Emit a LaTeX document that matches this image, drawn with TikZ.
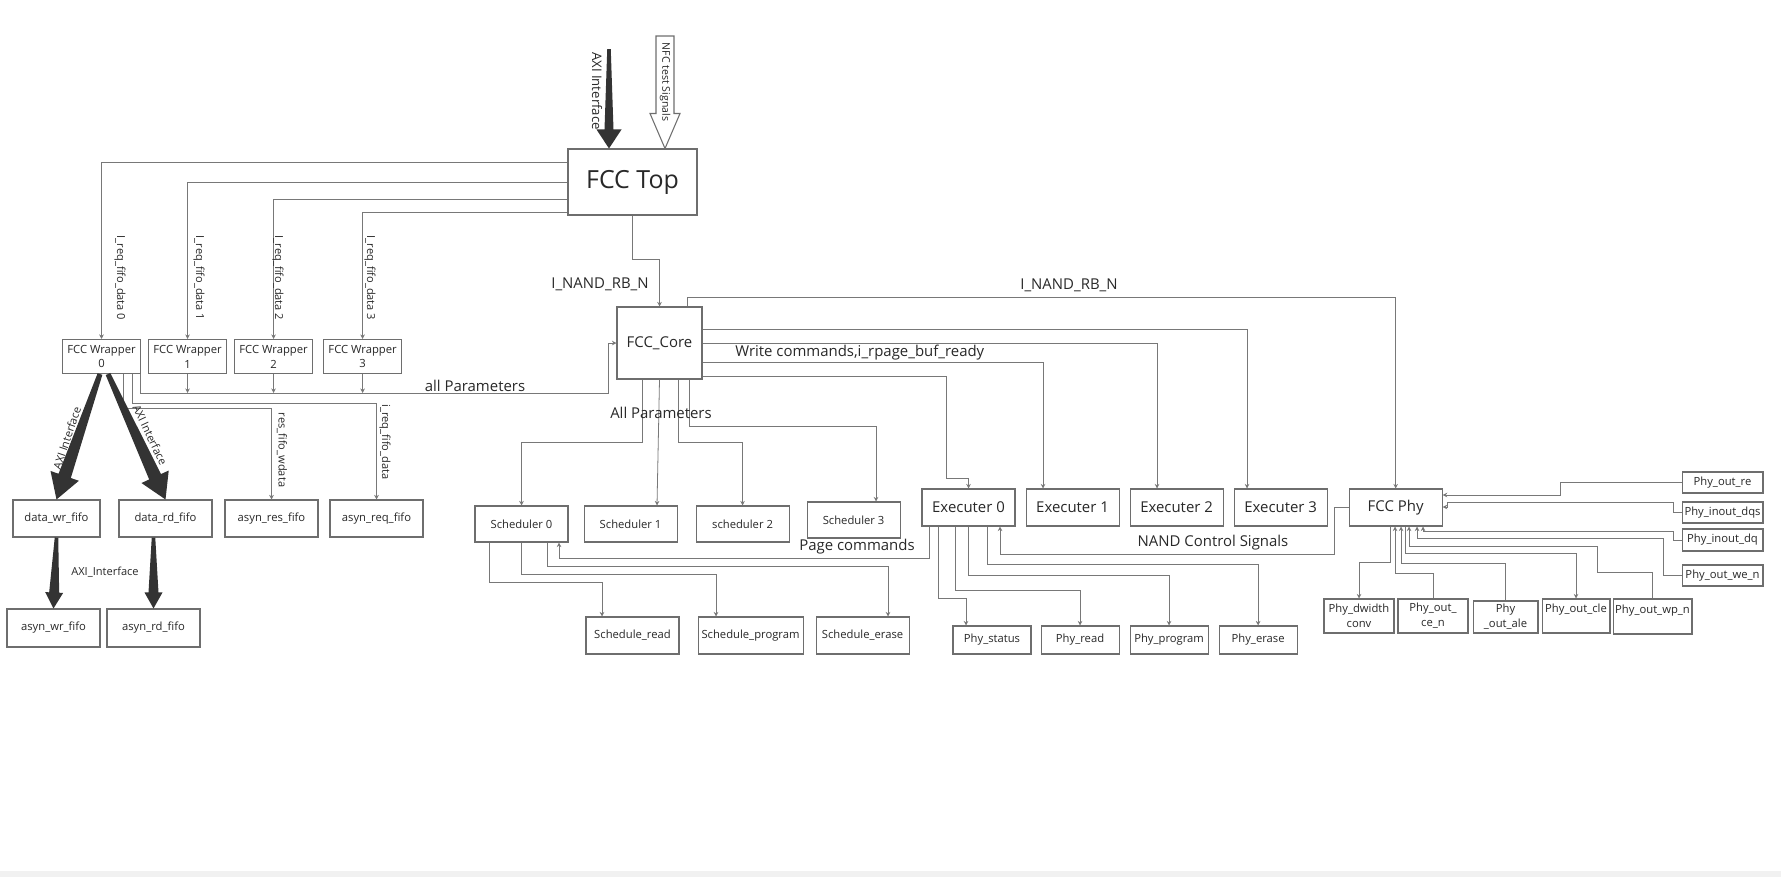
\documentclass[tikz,border=0pt]{standalone}
\usepackage{fontspec}
\setmainfont{Open Sans}
\usepackage{xcolor}
\usepackage{tikz}
\usetikzlibrary{arrows.meta, positioning, calc}

\definecolor{boxgray}{RGB}{110,110,110}
\definecolor{wiregray}{RGB}{120,120,120}
\definecolor{ink}{RGB}{40,40,40}
\definecolor{axidark}{RGB}{51,51,51}
\definecolor{stripgray}{RGB}{241,241,241}

% tapered block arrow: [style]{tail}{tip}{tail half width}{shaft half width}{head half width}{head length}
\newcommand{\blockarrow}[7][fill=axidark]{%
  \coordinate (ba-neck) at ($(#3)!#7!(#2)$);
  \path[#1] ($(#2)!#4!90:(#3)$) -- ($(ba-neck)!#5!90:(#3)$) -- ($(ba-neck)!#6!90:(#3)$) -- (#3)
    -- ($(ba-neck)!#6!-90:(#3)$) -- ($(ba-neck)!#5!-90:(#3)$) -- ($(#2)!#4!-90:(#3)$) -- cycle;
}

\begin{document}
\begin{tikzpicture}[
    x=0.02cm, y=-0.02cm,
    blk/.style={draw=boxgray, line width=0.6pt, fill=white, align=center, inner sep=0.5pt, text=ink,
      font=\fontsize{6.4}{8.5}\selectfont, minimum width=#1, minimum height=0.74cm},
    blk/.default=1.86cm,
    mid/.style={font=\fontsize{8.5}{10}\selectfont},
    wire/.style={draw=wiregray, line width=0.45pt, -{Stealth[length=2.6pt, width=2.6pt]}},
    note/.style={font=\fontsize{8.5}{10}\selectfont, text=ink, inner sep=0pt},
    tag/.style={font=\fontsize{6.3}{7.6}\selectfont, text=ink, inner sep=0pt},
  ]
  \useasboundingbox (0,0) rectangle (1781,877);
  \fill[stripgray] (0,871) rectangle (1781,877);

  % Top level and core
  \node[blk=2.58cm, minimum height=1.32cm, font=\fontsize{14.2}{17}\selectfont] (top) at (632.5,182) {FCC Top};
  \node[blk=1.7cm, mid, minimum height=1.44cm] (core) at (659.5,343) {FCC\_Core};

  % Wrappers
  \node[blk=1.56cm, minimum height=0.68cm] (wrap0) at (101.5,356.5) {FCC Wrapper\\0};
  \node[blk=1.56cm, minimum height=0.68cm, right=0.14cm of wrap0] (wrap1) {FCC Wrapper\\1};
  \node[blk=1.56cm, minimum height=0.68cm, right=0.14cm of wrap1] (wrap2) {FCC Wrapper\\2};
  \node[blk=1.56cm, minimum height=0.68cm, right=0.2cm of wrap2] (wrap3) {FCC Wrapper\\3};

  % FIFOs
  \node[blk=1.74cm] (wr) at (56.5,518.5) {data\_wr\_fifo};
  \node[blk] (rd) at (165.5,518.5) {data\_rd\_fifo};
  \node[blk] (res) at (271.5,518.5) {asyn\_res\_fifo};
  \node[blk] (req) at (376.5,518.5) {asyn\_req\_fifo};
  \node[blk, minimum height=0.76cm] (awr) at (53.5,628) {asyn\_wr\_fifo};
  \node[blk, minimum height=0.76cm] (ard) at (153.5,628) {asyn\_rd\_fifo};

  % Schedulers
  \node[blk, minimum height=0.72cm] (sch0) at (521.5,524) {Scheduler 0};
  \node[blk, minimum height=0.72cm, right=0.3cm of sch0] (sch1) {Scheduler 1};
  \node[blk, minimum height=0.72cm, right=0.36cm of sch1] (sch2) {scheduler 2};
  \node[blk, minimum height=0.72cm, right=0.34cm of sch2, yshift=0.08cm] (sch3) {Scheduler 3};
  \node[blk] (sread) at (632.5,635.5) {Schedule\_read};
  \node[blk=2.1cm, right=0.36cm of sread] (sprog) {Schedule\_program};
  \node[blk, right=0.24cm of sprog] (serase) {Schedule\_erase};

  % Executers and Phy
  \node[blk, mid] (exe0) at (968.5,507.5) {Executer 0};
  \node[blk, mid, right=0.2cm of exe0] (exe1) {Executer 1};
  \node[blk, mid, right=0.2cm of exe1] (exe2) {Executer 2};
  \node[blk, mid, right=0.2cm of exe2] (exe3) {Executer 3};
  \node[blk, mid, right=0.42cm of exe3] (phy) {FCC Phy};
  \node[blk=1.56cm, minimum height=0.56cm] (pstat) at (992,640) {Phy\_status};
  \node[blk=1.56cm, minimum height=0.56cm, right=0.18cm of pstat] (pread) {Phy\_read};
  \node[blk=1.56cm, minimum height=0.56cm, right=0.2cm of pread] (pprog) {Phy\_program};
  \node[blk=1.56cm, minimum height=0.56cm, right=0.2cm of pprog] (perase) {Phy\_erase};

  % Phy pins
  \node[blk=1.62cm, minimum height=0.42cm] (pre) at (1722.5,482.5) {Phy\_out\_re};
  \node[blk=1.62cm, minimum height=0.42cm] (pdqs) at (1722.5,512.5) {Phy\_inout\_dqs};
  \node[blk=1.62cm, minimum height=0.44cm] (pdq) at (1722.5,540) {Phy\_inout\_dq};
  \node[blk=1.62cm, minimum height=0.42cm] (pwe) at (1722.5,575.5) {Phy\_out\_we\_n};
  \node[blk=1.4cm, minimum height=0.68cm] (pdw) at (1359,616) {Phy\_dwidth\\conv};
  \node[blk=1.4cm, minimum height=0.68cm] (pce) at (1433,616) {Phy\_out\_\\ce\_n};
  \node[blk=1.3cm, minimum height=0.64cm] (pale) at (1505.5,617) {Phy\\\_out\_ale};
  \node[blk=1.36cm, minimum height=0.68cm] (pcle) at (1576,616) {Phy\_out\_cle\\~};
  \node[blk=1.58cm, minimum height=0.7cm] (pwp) at (1652.5,616.5) {Phy\_out\_wp\_n\\~};

  % Inputs of FCC Top
  \coordinate (axisrc) at (609,49);
  \coordinate (axidst) at (top.north -| 609,0);
  \blockarrow{axisrc}{axidst}{0.035cm}{0.09cm}{0.25cm}{0.38cm}
  \coordinate (nfcsrc) at (665,36);
  \coordinate (nfcdst) at (top.north -| 665,0);
  \blockarrow[draw=boxgray, line width=0.6pt, fill=white]{nfcsrc}{nfcdst}{0.18cm}{0.18cm}{0.3cm}{0.7cm}
  \node[tag, font=\fontsize{7.5}{9}\selectfont, rotate=-90] (axilbl) at (597,91) {AXI Interface};
  \node[tag, font=\fontsize{6}{7}\selectfont, rotate=-90] (nfclbl) at (665,82) {NFC test Signals};

  % FCC Top to wrappers
  \draw[wire] (top.west |- 0,162) -| (wrap0.north);
  \draw[wire] (top.west) -| (wrap1.north);
  \draw[wire] (top.west |- 0,199) -| (wrap2.north);
  \draw[wire] (top.west |- 0,212) -| (wrap3.north);
  \node[tag, rotate=-90] (req0lbl) at (120,278) {I\_req\_fifo\_data 0};
  \node[tag, rotate=-90] (req1lbl) at (199,278) {I\_req\_fifo\_data 1};
  \node[tag, rotate=-90] (req2lbl) at (278,278) {I\_req\_fifo\_data 2};
  \node[tag, rotate=-90] (req3lbl) at (370,278) {I\_req\_fifo\_data 3};

  % FCC Top to core
  \draw[wire] (top.south) -- (top.south |- 0,259) -| (core.north);
  \node[note] (rb1lbl) at (600,284) {I\_NAND\_RB\_N};

  % Wrapper outputs
  \draw[wire] ([xshift=-0.02cm]wrap0.south east) |- (608,393) |- (core.west);
  \draw[wire] (wrap1.south) -- (wrap1.south |- 0,393);
  \draw[wire] (wrap2.south) -- (wrap2.south |- 0,393);
  \draw[wire] (wrap3.south) -- (wrap3.south |- 0,393);
  \node[note] (paramlbl) at (475,386) {all Parameters};
  \draw[wire] (wrap0.south -| 132,0) -- (132,403) -| (req.north);
  \draw[wire] (wrap0.south -| 123,0) -- (123,408) -| (res.north);
  \node[tag, rotate=-90] (reqlbl) at (385,442) {i\_req\_fifo\_data};
  \node[tag, rotate=-90] (reslbl) at (282,450) {res\_fifo\_wdata};

  % AXI data path
  \coordinate (axiw) at ([xshift=-0.03cm]wrap0.south);
  \coordinate (axir) at ([xshift=0.13cm]wrap0.south);
  \blockarrow{axiw}{wr.north}{0.05cm}{0.13cm}{0.3cm}{0.5cm}
  \blockarrow{axir}{rd.north}{0.05cm}{0.13cm}{0.3cm}{0.5cm}
  \coordinate (rdtail) at (rd.south -| ard.north);
  \blockarrow{wr.south}{awr.north}{0.035cm}{0.1cm}{0.18cm}{0.32cm}
  \blockarrow{rdtail}{ard.north}{0.035cm}{0.1cm}{0.18cm}{0.32cm}
  \node[tag, rotate=71.4] (axiwlbl) at (67,438) {AXI Interface};
  \node[tag, rotate=-64.7] (axirlbl) at (150,435) {AXI Interface};
  \node[tag] (axififolbl) at (105,572) {AXI\_Interface};

  % Core to schedulers
  \draw[wire] (core.south -| 642,0) -- (642,442) -| (sch0.north);
  \draw[wire] (core.south) -- (sch1.north -| 657,0);
  \draw[wire] (core.south -| 678,0) -- (678,442) -| (sch2.north);
  \draw[wire] (core.south -| 689,0) -- (689,426) -| (sch3.north -| 876,0);
  \node[note] (allplbl) at (661,413) {All Parameters};

  % Scheduler 0 outputs
  \draw[wire] (sch0.south -| 489,0) -- (489,582) -| (sread.north -| 602,0);
  \draw[wire] (sch0.south) -- (sch0.south |- 0,574) -| (sprog.north -| 716,0);
  \draw[wire] (sch0.south -| 547,0) -- (547,566) -| (serase.north -| 888,0);
  \draw[wire] (exe0.south -| 929,0) -- (929,558) -| (sch0.south -| 559,0);
  \node[note] (pagelbl) at (857,547) {Page commands};

  % Core to executers and Phy
  \draw[wire] (core.east |- 0,376) -| (946,478) -| (exe0.north);
  \draw[wire] (core.east |- 0,362) -| (exe1.north -| 1043,0);
  \draw[wire] (core.east) -| (exe2.north -| 1157,0);
  \draw[wire] (core.east |- 0,329) -| (exe3.north -| 1247,0);
  \draw[wire] (core.north -| 687,0) -- (687,297) -| (phy.north);
  \node[note, anchor=west] (writelbl) at (735,353) {Write commands,i\_rpage\_buf\_ready};
  \node[note] (rb2lbl) at (1069,285) {I\_NAND\_RB\_N};

  % Executer 0 outputs
  \draw[wire] (exe0.south -| 938,0) -- (938,598) -| (pstat.north -| 966,0);
  \draw[wire] (exe0.south -| 955,0) -- (955,590) -| (pread.north);
  \draw[wire] (exe0.south) -- (exe0.south |- 0,575) -| (pprog.north);
  \draw[wire] (exe0.south -| 987,0) -- (987,564) -| (perase.north);
  \draw[wire] (phy.west) -| (1334,554) -| (exe0.south -| 1000,0);
  \node[note] (nandlbl) at (1213,543) {NAND Control Signals};

  % Phy pins to FCC Phy
  \draw[wire] (pre.west) -| (1560,495) -- (phy.east |- 0,495);
  \draw[wire] (pdqs.west) -| (1673,502) -| (1447,507) -- (phy.east |- 0,507);
  \draw[wire] (pdq.west) -| (1673,531) -| (phy.south -| 1423,0);
  \draw[wire] (pwe.west) -| (1663,538) -| (phy.south -| 1417,0);
  \draw[wire] (pwp.north) |- (1597,572) |- (1409,546) -- (phy.south -| 1409,0);
  \draw[wire] (phy.south -| 1405,0) -- (1405,553) -| (pcle.north);
  \draw[wire] (pale.north) |- (1401,563) -- (phy.south -| 1401,0);
  \draw[wire] (pce.north) |- (1395,573) -- (phy.south -| 1395,0);
  \draw[wire] (phy.south -| 1390,0) -- (1390,562) -| (pdw.north);

\end{tikzpicture}
\end{document}
